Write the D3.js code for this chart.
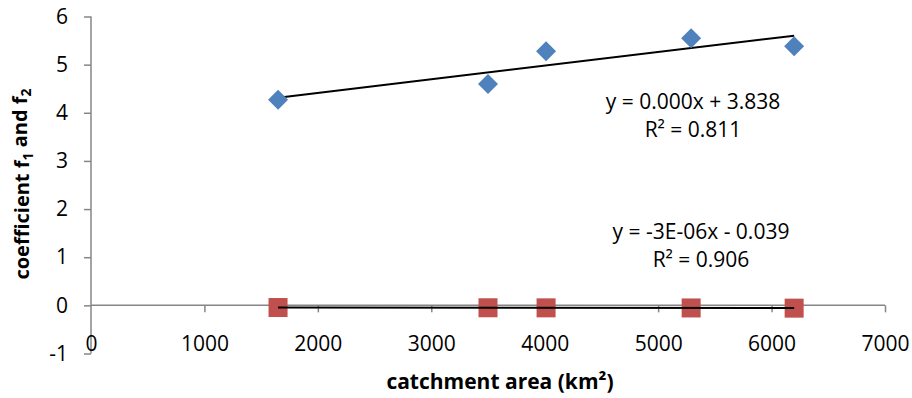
<!DOCTYPE html>
<html>
<head>
<meta charset="utf-8">
<script src="https://cdn.jsdelivr.net/npm/d3@7"></script>
<style>
  body { margin: 0; background: #fff; }
  text { font-family: "Open Sans", sans-serif; fill: #000; }
</style>
</head>
<body>
<div id="chart"></div>
<script>
// catchment area data
const area = [1649, 3500, 4012, 5291, 6199];
const f1 = [4.27, 4.60, 5.28, 5.55, 5.38];
const f2 = [-0.045, -0.050, -0.052, -0.054, -0.058];
const xTicks = [0, 1000, 2000, 3000, 4000, 5000, 6000, 7000];
const yTicks = [-1, 0, 1, 2, 3, 4, 5, 6];
const eq1 = ["y = 0.000x + 3.838", "R² = 0.811"];
const eq2 = ["y = -3E-06x - 0.039", "R² = 0.906"];

const width = 912;
const height = 398;

const svg = d3.select("#chart")
              .append("svg")
              .attr("width", width)
              .attr("height", height);

const x = d3.scaleLinear().domain([0, 7000]).range([91, 885]);
const y = d3.scaleLinear().domain([-1, 6]).range([353.5, 16.5]);

// least squares fit
function fit(xs, ys) {
  const mx = d3.mean(xs), my = d3.mean(ys);
  const sxy = d3.sum(xs, (v, i) => (v - mx) * (ys[i] - my));
  const sxx = d3.sum(xs, v => (v - mx) * (v - mx));
  const b = sxy / sxx;
  return v => my + b * (v - mx);
}

// y axis
svg.append("g")
   .attr("transform", `translate(${x(0)},0)`)
   .call(d3.axisLeft(y).tickValues(yTicks).tickSize(7).tickPadding(16).tickFormat(d => String(d)))
   .call(g => g.selectAll("line, path").attr("stroke", "#868686").attr("stroke-width", 1.5))
   .call(g => g.select(".domain").attr("d", `M0,${y(6)}V${y(-1)}`))
   .call(g => g.selectAll("text").style("font-size", "21px").attr("fill", "#000"));

// x axis crossing at y = 0, labels at the bottom
const xa = svg.append("g")
   .attr("transform", `translate(0,${y(0)})`)
   .call(d3.axisBottom(x).tickValues(xTicks).tickSize(7).tickFormat(d => String(d)))
   .call(g => g.selectAll("line, path").attr("stroke", "#868686").attr("stroke-width", 1.5))
   .call(g => g.select(".domain").attr("d", `M${x(0)},0H${x(7000)}`))
   .call(g => g.selectAll("text").style("font-size", "21px").attr("fill", "#000")
               .attr("y", 0).attr("dy", "0.35em")
               .attr("transform", `translate(0,${344 - y(0)})`));
xa.selectAll(".tick").filter(d => d === 0).select("line").remove();

// trendlines
const t1 = fit(area, f1), t2 = fit(area, f2);
const ext = d3.extent(area);
const line = d3.line().x(d => x(d[0])).y(d => y(d[1]));

svg.append("path")
   .attr("d", line(ext.map(v => [v, t1(v)])))
   .attr("stroke", "#000").attr("stroke-width", 2).attr("fill", "none");

// f2 markers
svg.append("g").selectAll("rect")
   .data(area)
   .join("rect")
   .attr("x", d => x(d) - 9.5)
   .attr("y", (d, i) => y(f2[i]) - 9.5)
   .attr("width", 19).attr("height", 19)
   .attr("fill", "#C0504D");

svg.append("path")
   .attr("d", line(ext.map(v => [v, t2(v)])))
   .attr("stroke", "#000").attr("stroke-width", 2).attr("fill", "none");

// f1 markers
svg.append("g").selectAll("path")
   .data(area)
   .join("path")
   .attr("d", d3.symbol(d3.symbolSquare, 200))
   .attr("transform", (d, i) => `translate(${x(d)},${y(f1[i])}) rotate(45)`)
   .attr("fill", "#4F81BD");

// equations
svg.append("text").attr("x", 693).attr("y", 102).attr("dy", "0.35em")
   .attr("text-anchor", "middle").style("font-size", "21px").text(eq1[0]);
svg.append("text").attr("x", 693).attr("y", 130).attr("dy", "0.35em")
   .attr("text-anchor", "middle").style("font-size", "21px").text(eq1[1]);
svg.append("text").attr("x", 701).attr("y", 232).attr("dy", "0.35em")
   .attr("text-anchor", "middle").style("font-size", "21px").text(eq2[0]);
svg.append("text").attr("x", 701).attr("y", 260).attr("dy", "0.35em")
   .attr("text-anchor", "middle").style("font-size", "21px").text(eq2[1]);

// axis titles
svg.append("text").attr("x", 500).attr("y", 382).attr("dy", "0.35em")
   .attr("text-anchor", "middle").style("font-size", "21px").style("font-weight", "bold")
   .text("catchment area (km²)");

const yt = svg.append("text")
   .attr("transform", "translate(22,184) rotate(-90)")
   .attr("dy", "0.35em")
   .attr("text-anchor", "middle").style("font-size", "20px").style("font-weight", "bold");
yt.append("tspan").text("coefficient f");
yt.append("tspan").attr("dy", "0.3em").style("font-size", "14px").text("1");
yt.append("tspan").attr("dy", "-0.3em").text(" and f");
yt.append("tspan").attr("dy", "0.3em").style("font-size", "14px").text("2");
</script>
</body>
</html>
